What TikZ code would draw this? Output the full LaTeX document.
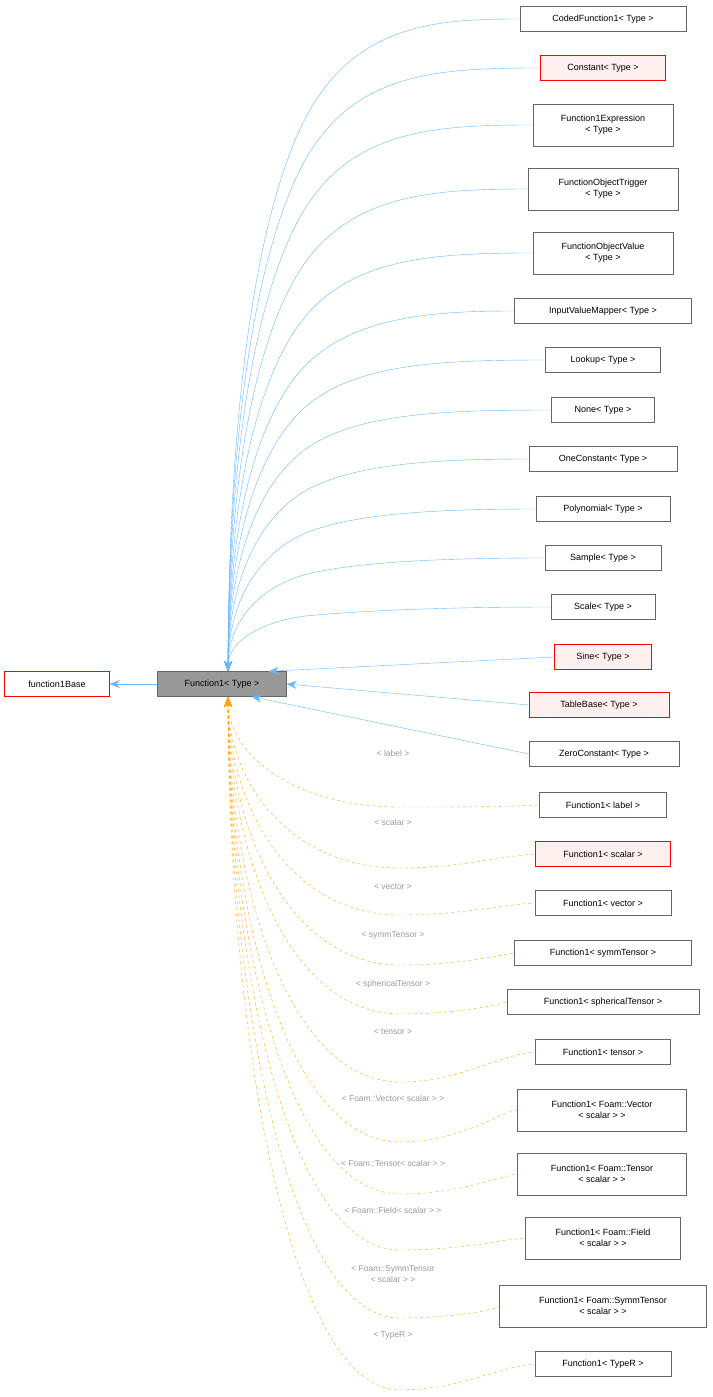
\documentclass[tikz,border=0pt]{standalone}
\usepackage{fontspec}
\setmainfont{Liberation Sans}
\usetikzlibrary{arrows.meta}
\definecolor{eblue}{HTML}{63B8FF}
\definecolor{eorange}{HTML}{FFA500}
\definecolor{lgrey}{HTML}{9A9A9A}
\definecolor{redfill}{HTML}{FFF0F0}
\tikzset{
 box/.style={draw=black!60, fill=white, font=\fontsize{9}{11}\selectfont, align=center, inner sep=0pt, minimum height=25pt},
 tall/.style={minimum height=42pt},
 redbox/.style={draw=red, fill=redfill},
 blueedge/.style={draw=eblue, {Stealth[length=10pt,width=8pt]}-},
 orangeedge/.style={draw=eorange, dashed, {Stealth[length=10pt,width=8pt]}-},
 elabel/.style={text=lgrey, font=\fontsize{8.5}{10.5}\selectfont, align=center}
}
\begin{document}
\begin{tikzpicture}[x=1pt,y=-1pt]
\useasboundingbox (0,0) rectangle (712,1397);
\node[box, redbox, fill=white, minimum width=105pt] (base) at (57,684) {function1Base};
\node[box, fill=black!40, minimum width=129pt] (f) at (222,684) {Function1\textless{} Type \textgreater};
\draw[blueedge] (base.east) -- (f.west);
\coordinate (ft) at (228,671);
\coordinate (fb) at (228,697);
% blue children
\foreach \n/\y/\w/\t/\r in {
 c1/19/166/{CodedFunction1\textless{} Type \textgreater}/0,
 c2/68/125/{Constant\textless{} Type \textgreater}/1,
 c3/125/140/{Function1Expression\\\textless{} Type \textgreater}/2,
 c4/189/150/{FunctionObjectTrigger\\\textless{} Type \textgreater}/2,
 c5/253/140/{FunctionObjectValue\\\textless{} Type \textgreater}/2,
 c6/311/177/{InputValueMapper\textless{} Type \textgreater}/0,
 c7/360/115/{Lookup\textless{} Type \textgreater}/0,
 c8/410/103/{None\textless{} Type \textgreater}/0,
 c9/459/148/{OneConstant\textless{} Type \textgreater}/0,
 c10/509/134/{Polynomial\textless{} Type \textgreater}/0,
 c11/558/116/{Sample\textless{} Type \textgreater}/0,
 c12/607/104/{Scale\textless{} Type \textgreater}/0}{
 \ifnum\r=1
  \node[box, redbox, minimum width=\w pt] (\n) at (603,\y) {\t};
 \else\ifnum\r=2
  \node[box, tall, minimum width=\w pt] (\n) at (603,\y) {\t};
 \else
  \node[box, minimum width=\w pt] (\n) at (603,\y) {\t};
 \fi\fi
 \pgfmathsetmacro\dd{668-\y}
 \pgfmathsetmacro\ym{\y+0.14*\dd}
 \pgfmathsetmacro\s{(0.14*\dd-4)/50}
 \pgfmathsetmacro\yc{\ym+40*\s}
 \pgfmathsetmacro\ya{\y+0.5*\dd}
 \pgfmathsetmacro\yd{\y+4}
 \draw[blueedge] (ft) .. controls (229,\ya) and (270,\yc) .. (310,\ym) .. controls (360,\yd) and (440,\y) .. (\n.west);
}
\node[box, redbox, minimum width=97pt] (c13) at (603,657) {Sine\textless{} Type \textgreater};
\node[box, redbox, minimum width=140pt] (c14) at (599,705) {TableBase\textless{} Type \textgreater};
\node[box, minimum width=150pt] (c15) at (604,754) {ZeroConstant\textless{} Type \textgreater};
\draw[blueedge] ([xshift=-18pt]f.north east) -- (c13.west);
\draw[blueedge] (f.east) -- (c14.west);
\draw[blueedge] ([xshift=-35pt]f.south east) -- (c15.west);
% orange children
\foreach \n/\y/\x/\w/\t/\r/\lab/\ly/\d in {
 d1/805/603/127/{Function1\textless{} label \textgreater}/0/{\textless{} label \textgreater}/753/2,
 d2/854/603/135/{Function1\textless{} scalar \textgreater}/1/{\textless{} scalar \textgreater}/822/14,
 d3/903/603/136/{Function1\textless{} vector \textgreater}/0/{\textless{} vector \textgreater}/887/12,
 d4/953/603/177/{Function1\textless{} symmTensor \textgreater}/0/{\textless{} symmTensor \textgreater}/935/12,
 d5/1002/603/192/{Function1\textless{} sphericalTensor \textgreater}/0/{\textless{} sphericalTensor \textgreater}/984/12,
 d6/1052/603/135/{Function1\textless{} tensor \textgreater}/0/{\textless{} tensor \textgreater}/1032/30,
 d7/1110/602/169/{Function1\textless{} Foam::Vector\\\textless{} scalar \textgreater{} \textgreater}/2/{\textless{} Foam::Vector\textless{} scalar \textgreater{} \textgreater}/1098/32,
 d8/1174/602/169/{Function1\textless{} Foam::Tensor\\\textless{} scalar \textgreater{} \textgreater}/2/{\textless{} Foam::Tensor\textless{} scalar \textgreater{} \textgreater}/1163/20,
 d9/1238/603/155/{Function1\textless{} Foam::Field\\\textless{} scalar \textgreater{} \textgreater}/2/{\textless{} Foam::Field\textless{} scalar \textgreater{} \textgreater}/1210/12,
 d10/1306/603/207/{Function1\textless{} Foam::SymmTensor\\\textless{} scalar \textgreater{} \textgreater}/2/{\textless{} Foam::SymmTensor\\\textless{} scalar \textgreater{} \textgreater\hspace{42pt}}/1274/12,
 d11/1364/603/136/{Function1\textless{} TypeR \textgreater}/0/{\textless{} TypeR \textgreater}/1335/26}{
 \ifnum\r=1
  \node[box, redbox, minimum width=\w pt] (\n) at (\x,\y) {\t};
 \else\ifnum\r=2
  \node[box, tall, minimum width=\w pt] (\n) at (\x,\y) {\t};
 \else
  \node[box, minimum width=\w pt] (\n) at (\x,\y) {\t};
 \fi\fi
 \pgfmathsetmacro\yb{\y+\d}
 \pgfmathsetmacro\ya{697+0.5*(\yb-697)}
 \pgfmathsetmacro\ye{\y+2}
 \draw[orangeedge] (fb) .. controls (229,\ya) and (290,\yb) .. (400,\yb) .. controls (460,\yb) and (500,\ye) .. (\n.west);
 \node[elabel] (l\n) at (393,\ly) {\lab};
}
\end{tikzpicture}
\end{document}
